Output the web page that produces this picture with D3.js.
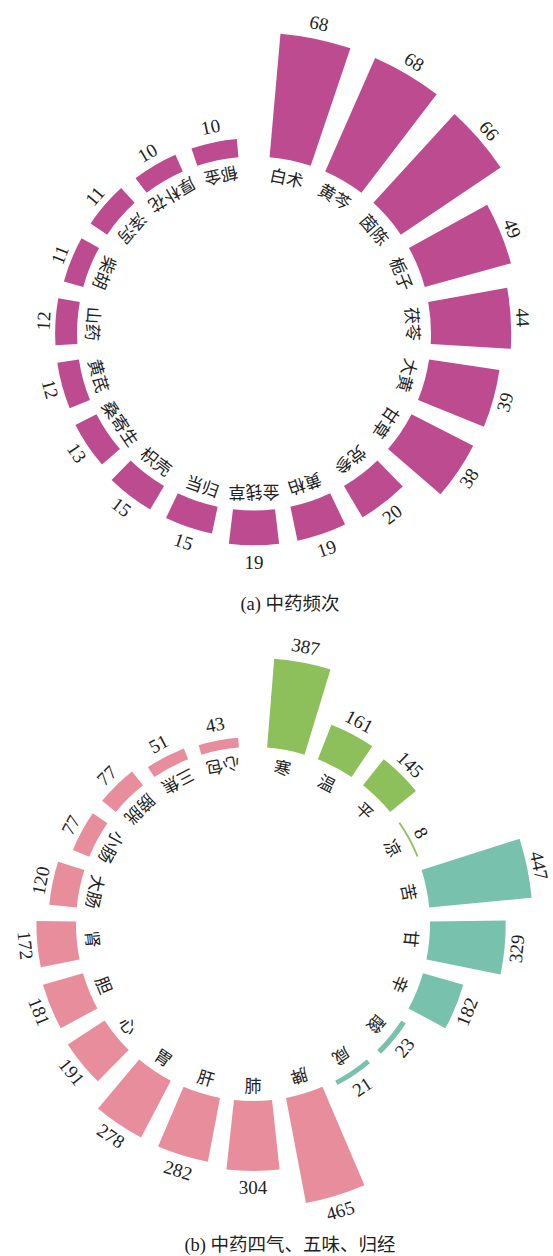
<!DOCTYPE html>
<html lang="zh">
<head>
<meta charset="UTF-8">
<title>中药频次与四气五味归经</title>
<style>
    body { margin: 0; background: #fff; }
    svg { display: block; }
    .name { font: 17px "Noto Sans CJK SC", sans-serif; fill: #222; }
    .value { font: 19px "Liberation Serif", "Times New Roman", serif; fill: #222; }
    .caption { font: 18.5px "Liberation Serif", "Noto Sans CJK SC", serif; fill: #222; }
</style>
</head>
<body>
<svg width="553" height="1256"></svg>
<script src="https://cdn.jsdelivr.net/npm/d3@7/dist/d3.min.js"></script>
<script>
// (a) herb frequency
const herbNames = ["白术", "黄芩", "茵陈", "栀子", "茯苓", "大黄", "甘草", "党参", "黄柏", "金钱草",
                   "当归", "枳壳", "桑寄生", "黄芪", "山药", "柴胡", "泽泻", "厚朴花", "郁金"];
const herbCounts = [68, 68, 66, 49, 44, 39, 38, 20, 19, 19, 15, 15, 13, 12, 12, 11, 11, 10, 10];

// (b) four natures, five flavours, meridian tropism
const qiNames = ["寒", "温", "平", "凉"];
const qiCounts = [387, 161, 145, 8];
const weiNames = ["苦", "甘", "辛", "酸", "咸"];
const weiCounts = [447, 329, 182, 23, 21];
const jingNames = ["脾", "肺", "肝", "胃", "心", "胆", "肾", "大肠", "小肠", "膀胱", "三焦", "心包"];
const jingCounts = [465, 304, 282, 278, 191, 181, 172, 120, 77, 77, 51, 43];

const purple = "#bd4b8f", green = "#8dbf5a", teal = "#78c1ac", pink = "#e88d9b";

const svg = d3.select("svg");
const inner = 177;

// flipAt: angle (deg) from which the names are turned to face the centre
function radial(cx, cy, names, values, colors, maxOuter, flipAt) {
    const g = svg.append("g").attr("transform", "translate(" + cx + "," + cy + ")");

    const x = d3.scaleBand().domain(names).range([0, 2 * Math.PI]).padding(0.27);
    const y = d3.scaleLinear().domain([0, d3.max(values)]).range([inner, maxOuter]);

    const rows = names.map((n, i) => ({ name: n, value: values[i], color: colors[i] }));
    const mid = d => x(d.name) + x.bandwidth() / 2;
    const deg = d => mid(d) * 180 / Math.PI;
    const place = (d, r, rot) => "translate(" + (r * Math.sin(mid(d))) + "," + (-r * Math.cos(mid(d))) + ") rotate(" + rot + ")";

    const arc = d3.arc()
        .innerRadius(inner)
        .outerRadius(d => y(d.value))
        .startAngle(d => x(d.name))
        .endAngle(d => x(d.name) + x.bandwidth());

    g.selectAll("path")
        .data(rows)
        .enter().append("path")
        .attr("d", arc)
        .attr("fill", d => d.color);

    g.selectAll(".name")
        .data(rows)
        .enter().append("text")
        .attr("class", "name")
        .attr("text-anchor", "middle")
        .attr("dominant-baseline", "central")
        .attr("transform", d => place(d, 160, deg(d) < flipAt ? deg(d) : deg(d) - 180))
        .text(d => d.name);

    // numbers are kept readable: upright on the top half, turned on the bottom half
    // (they sit a little closer to the bar on the left and right sides)
    g.selectAll(".value")
        .data(rows)
        .enter().append("text")
        .attr("class", "value")
        .attr("text-anchor", "middle")
        .attr("dominant-baseline", "central")
        .attr("transform", d => {
            const a = deg(d);
            const gap = 17 - 5 * Math.abs(Math.sin(mid(d)));
            return place(d, y(d.value) + gap, (a < 90 || a > 270) ? a : a - 180);
        })
        .text(d => d.value);
}

radial(254, 333.5, herbNames, herbCounts, herbNames.map(() => purple), 301, 180.5);

const bNames = qiNames.concat(weiNames, jingNames);
const bCounts = qiCounts.concat(weiCounts, jingCounts);
const bColors = qiNames.map(() => green).concat(weiNames.map(() => teal), jingNames.map(() => pink));
radial(253, 924, bNames, bCounts, bColors, 284, 179.5);

svg.append("text").attr("class", "caption")
    .attr("x", 290).attr("y", 609.5).attr("text-anchor", "middle")
    .text("(a) 中药频次");
svg.append("text").attr("class", "caption")
    .attr("x", 290).attr("y", 1251).attr("text-anchor", "middle")
    .text("(b) 中药四气、五味、归经");
</script>
</body>
</html>
